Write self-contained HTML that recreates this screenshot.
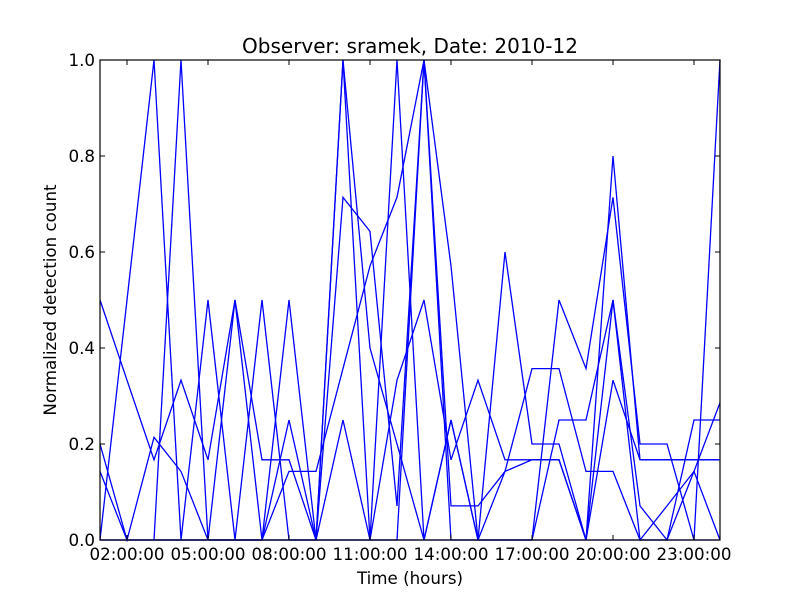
<!DOCTYPE html>
<html><head><meta charset="utf-8"><style>
body{margin:0;background:#fff;}
svg{font-family:"DejaVu Sans","Liberation Sans",sans-serif;}
</style></head><body>
<svg id="chart" width="800" height="600">
<rect width="800" height="600" fill="#fff"/>
<text x="410" y="53" font-size="20" text-anchor="middle">Observer: sramek, Date: 2010-12</text>
<text x="410" y="584" font-size="16.7" text-anchor="middle">Time (hours)</text>
<text x="56" y="300" font-size="16.7" text-anchor="middle" transform="rotate(-90 56 300)">Normalized detection count</text>
<g id="lines"></g>
<g id="axes"></g>
</svg>
<script>
const hours = [1,2,3,4,5,6,7,8,9,10,11,12,13,14,15,16,17,18,19,20,21,22,23,24];
const s1 = [0.5,0.333,0.167,0.333,0.167,0.5,0.167,0.167,0,0.714,0.643,0.071,1,0.071,0.071,0.143,0.357,0.357,0.143,0.143,0,0.071,0.143,0];
const s2 = [0.2,0,0.214,0.143,0,0,0,0.25,0,0.25,0,1,0,0.25,0,0.6,0.2,0.2,0,0.8,0.167,0.167,0.167,0.167];
const s3 = [0,0.5,1,0,0.5,0,0.5,0,0,1,0,0,1,0,0,0,0,0,0,0,0,0,0,0];
const s4 = [null,null,0,1,0,0.5,0,0.5,0,1,0.4,0.2,0,0.25,0,0,0,0.5,0.357,0.714,0.2,0.2,0,1];
const s5 = [0.143,0,0,0,0,0,0,0.143,0.143,0.357,0.571,0.714,1,0.571,0,0.143,0.167,0.167,0,0.333,0.167,0.167,0.167,0.167];
const s6 = [0,0,0,0,0,0,0,0,0,0,0,0.333,0.5,0.167,0.333,0.167,0.167,0.167,0,0.5,0,0,0.25,0.25];
const s7 = [0,0,0,0,0,0,0,0,0,0,0,0,0,0,0,0,0,0.25,0.25,0.5,0.071,0,0.143,0.286];
const seriesList = [s1,s2,s3,s4,s5,s6,s7];
const yTicks = [0,0.2,0.4,0.6,0.8,1.0];
const yTickLabels = ["0.0","0.2","0.4","0.6","0.8","1.0"];
const xTicks = [2,5,8,11,14,17,20,23];
const xTickLabels = ["02:00:00","05:00:00","08:00:00","11:00:00","14:00:00","17:00:00","20:00:00","23:00:00"];

const L=100,R=720,T=60,B=540;
const xs = h => L + (h-1)*27;
const ys = v => B - v*(B-T);
const NS="http://www.w3.org/2000/svg";
const lines=document.getElementById('lines');
seriesList.forEach((s,k)=>{
  let d="",pen=false;
  s.forEach((v,i)=>{
    if(v===null){pen=false;return;}
    d += (pen?"L":"M")+Math.min(xs(hours[i]),R).toFixed(1)+","+ys(v).toFixed(1);
    pen=true;
  });
  const p=document.createElementNS(NS,'path');
  p.setAttribute('d',d);p.setAttribute('fill','none');p.setAttribute('stroke','#0000ff');p.setAttribute('stroke-width','1.3');
  
  
  lines.appendChild(p);
});
const axes=document.getElementById('axes');
function el(tag,attrs,text){const e=document.createElementNS(NS,tag);for(const a in attrs)e.setAttribute(a,attrs[a]);if(text!==undefined)e.textContent=text;axes.appendChild(e);return e;}
const frame=el('rect',{x:L,y:T,width:R-L,height:B-T,fill:'none',stroke:'#000','stroke-width':1.2});


yTicks.forEach((v,i)=>{
  const y=ys(v);
  el('line',{x1:L,x2:L+5,y1:y,y2:y,stroke:'#000'});
  el('line',{x1:R-5,x2:R,y1:y,y2:y,stroke:'#000'});
  const t=el('text',{x:L-5,y:y+6,'font-size':16.7,'text-anchor':'end'},yTickLabels[i]);
  
  
});
xTicks.forEach((h,i)=>{
  const x=xs(h);
  el('line',{x1:x,x2:x,y1:B,y2:B-5,stroke:'#000'});
  el('line',{x1:x,x2:x,y1:T,y2:T+5,stroke:'#000'});
  const t=el('text',{x:x,y:B+20,'font-size':16.7,'text-anchor':'middle'},xTickLabels[i]);
  
  
});
</script>
</body></html>
